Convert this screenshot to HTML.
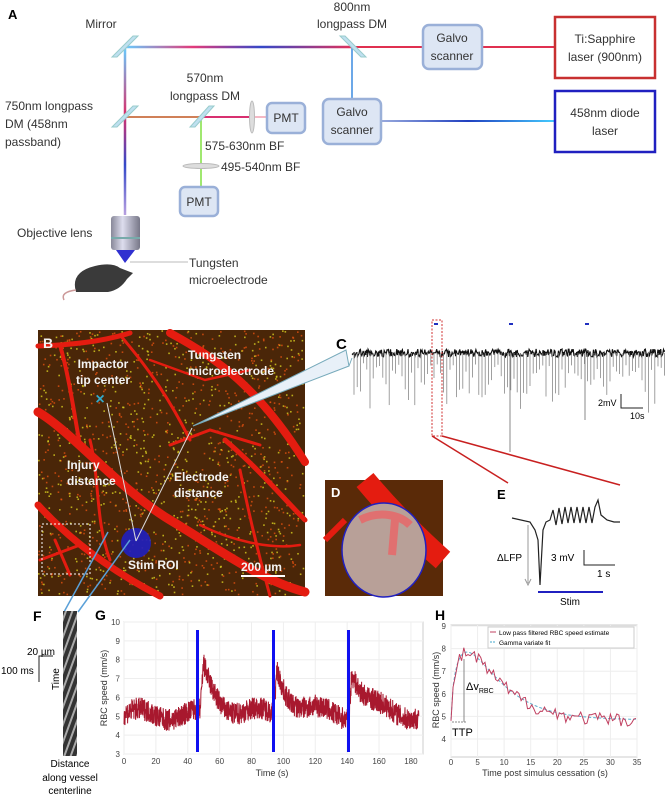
<!DOCTYPE html>
<html><head><meta charset="utf-8"><style>
body{margin:0;background:#fff}
svg{display:block;font-family:"Liberation Sans",sans-serif}
.t{font-size:12px;fill:#333}
.b{font-weight:bold}
</style></head><body>
<svg id="s" width="665" height="795" viewBox="0 0 665 795" xmlns="http://www.w3.org/2000/svg">
<defs>
<linearGradient id="rb" gradientUnits="userSpaceOnUse" x1="125" y1="0" x2="352" y2="0"><stop offset="0" stop-color="#6cf"/><stop offset=".3" stop-color="#e23a7a"/><stop offset=".6" stop-color="#3448c8"/><stop offset="1" stop-color="#e2305a"/></linearGradient>
<linearGradient id="vb" gradientUnits="userSpaceOnUse" x1="0" y1="47" x2="0" y2="215"><stop offset="0" stop-color="#6cf"/><stop offset=".4" stop-color="#d8306c"/><stop offset=".7" stop-color="#3448c8"/><stop offset="1" stop-color="#b8a0e0"/></linearGradient>
<linearGradient id="bl" gradientUnits="userSpaceOnUse" x1="381" y1="0" x2="555" y2="0"><stop offset="0" stop-color="#9ad"/><stop offset=".5" stop-color="#2040c0"/><stop offset="1" stop-color="#4cf"/></linearGradient>
<linearGradient id="obj" x1="0" x2="1"><stop offset="0" stop-color="#889"/><stop offset=".4" stop-color="#dde"/><stop offset="1" stop-color="#778"/></linearGradient>
<pattern id="ky" width="6" height="10" patternUnits="userSpaceOnUse" patternTransform="rotate(20)"><rect width="6" height="10" fill="#333"/><rect width="2" height="10" fill="#aaa"/></pattern>
</defs>
<!-- Panel A -->
<text x="8" y="19" class="b" font-size="13">A</text>
<line x1="125" y1="47" x2="352" y2="47" stroke="url(#rb)" stroke-width="2.5"/>
<line x1="352" y1="47" x2="555" y2="47" stroke="#e03050" stroke-width="2"/>
<line x1="125" y1="47" x2="125" y2="215" stroke="url(#vb)" stroke-width="2.5"/>
<line x1="125" y1="117" x2="252" y2="117" stroke="#d83070" stroke-width="2"/>
<line x1="125" y1="117" x2="200" y2="117" stroke="#c8d040" stroke-width="1"/>
<line x1="252" y1="117" x2="267" y2="117" stroke="#f0a0b0" stroke-width="1.5"/>
<line x1="201" y1="117" x2="201" y2="187" stroke="#80e040" stroke-width="1.5"/>
<line x1="352" y1="47" x2="352" y2="99" stroke="#3a8ae0" stroke-width="1.5"/>
<line x1="381" y1="121" x2="555" y2="121" stroke="url(#bl)" stroke-width="2"/>
<g fill="#bfe0f0" stroke="#9cc" stroke-width="1">
<polygon points="112,57 117,57 138,36 133,36"/><polygon points="112,127 117,127 138,106 133,106"/>
<polygon points="190,127 195,127 214,106 209,106"/><polygon points="340,36 345,36 366,57 361,57"/>
</g>
<ellipse cx="252" cy="117" rx="2.5" ry="16" fill="#ddd" stroke="#bbb"/>
<ellipse cx="201" cy="166" rx="18" ry="2.5" fill="#ddd" stroke="#bbb"/>
<g fill="#dde6f4" stroke="#9ab0d8" stroke-width="2.5">
<rect x="423" y="25" width="59" height="44" rx="6"/><rect x="323" y="99" width="58" height="45" rx="6"/>
<rect x="267" y="103" width="38" height="30" rx="5"/><rect x="180" y="187" width="38" height="29" rx="5"/>
</g>
<rect x="555" y="17" width="100" height="61" fill="#fff" stroke="#c83030" stroke-width="2.5"/>
<rect x="555" y="91" width="100" height="61" fill="#fff" stroke="#2020c0" stroke-width="2.5"/>
<g class="t" text-anchor="middle">
<text x="452" y="42">Galvo</text><text x="452" y="60">scanner</text>
<text x="352" y="116">Galvo</text><text x="352" y="134">scanner</text>
<text x="286" y="122">PMT</text><text x="199" y="206">PMT</text>
<text x="605" y="43">Ti:Sapphire</text><text x="605" y="61">laser (900nm)</text>
<text x="605" y="117">458nm diode</text><text x="605" y="135">laser</text>
<text x="101" y="28">Mirror</text>
<text x="352" y="11">800nm</text><text x="352" y="28">longpass DM</text>
<text x="205" y="82">570nm</text><text x="205" y="100">longpass DM</text>
</g>
<g class="t">
<text x="5" y="110">750nm longpass</text><text x="5" y="128">DM (458nm</text><text x="5" y="146">passband)</text>
<text x="205" y="150">575-630nm BF</text><text x="221" y="171">495-540nm BF</text>
<text x="17" y="237">Objective lens</text>
<text x="189" y="267">Tungsten</text><text x="189" y="284">microelectrode</text>
</g>
<rect x="111" y="216" width="29" height="34" rx="3" fill="url(#obj)"/>
<line x1="111" y1="238" x2="140" y2="238" stroke="#7aa" stroke-width="2"/>
<polygon points="116,250 135,250 125,263" fill="#3030d0"/>
<line x1="130" y1="262" x2="188" y2="262" stroke="#bbb"/>
<path d="M76,292 Q70,272 95,266 Q112,262 120,268 L133,273 L127,279 Q120,290 108,292 Z" fill="#3a3a3a"/>
<path d="M76,290 Q60,292 64,300" fill="none" stroke="#c99" stroke-width="1.5"/>
<!-- Panel B -->
<rect x="38" y="330" width="267" height="266" fill="#4a2608"/>
<g id="spk"></g>
<g fill="none" stroke="#e41c10" stroke-linecap="round">
<path d="M38,412 C70,430 120,490 170,520 S260,580 305,592" stroke-width="9"/>
<path d="M38,505 C70,540 110,570 160,596" stroke-width="7"/>
<path d="M170,333 C220,360 260,390 305,462" stroke-width="8"/>
<path d="M38,346 C70,345 100,342 130,333" stroke-width="5"/>
<path d="M225,440 C260,470 285,500 305,520" stroke-width="5"/>
<path d="M60,345 C70,380 75,420 80,445" stroke-width="4"/>
<path d="M120,335 C150,370 170,400 190,440" stroke-width="3"/>
<path d="M240,470 C250,520 260,560 270,596" stroke-width="3"/>
<path d="M90,440 C100,480 95,520 110,560" stroke-width="3"/>
<path d="M170,445 L210,430 L260,445" stroke-width="3"/>
<path d="M40,560 L80,545 M55,540 L70,575" stroke-width="3"/>
<path d="M200,525 C230,540 270,550 300,545" stroke-width="2.5"/>
<path d="M150,360 L205,380 L250,370" stroke-width="2.5"/>
</g>
<rect x="42" y="524" width="48" height="50" fill="none" stroke="#fff" stroke-dasharray="2,2"/>
<circle cx="136" cy="543" r="15" fill="#2020c0" opacity=".9"/>
<line x1="136" y1="541" x2="107" y2="403" stroke="#ddd"/><line x1="136" y1="541" x2="192" y2="428" stroke="#ddd"/>
<polygon points="193,426 346,350 349,366" fill="#e8f0f8" stroke="#7ab" stroke-width="1"/>
<line x1="349" y1="366" x2="352" y2="358" stroke="#7ab"/>
<text x="100" y="404" fill="#3ac" font-size="16" font-weight="bold" text-anchor="middle">×</text>
<line x1="108" y1="532" x2="64" y2="612" stroke="#5aa0d8" stroke-width="1.5"/>
<line x1="130" y1="540" x2="78" y2="612" stroke="#5aa0d8" stroke-width="1.5"/>
<g fill="#f4f4f4" font-size="12" font-weight="bold">
<text x="43" y="348" font-size="14">B</text>
<text x="103" y="368" text-anchor="middle">Impactor</text><text x="103" y="384" text-anchor="middle">tip center</text>
<text x="188" y="359">Tungsten</text><text x="188" y="375">microelectrode</text>
<text x="67" y="469">Injury</text><text x="67" y="485">distance</text>
<text x="174" y="481">Electrode</text><text x="174" y="497">distance</text>
<text x="128" y="569">Stim ROI</text><text x="241" y="571">200 µm</text>
</g>
<line x1="241" y1="576" x2="285" y2="576" stroke="#fff" stroke-width="2"/>
<!-- Panel C -->
<text x="336" y="349" font-size="15" font-weight="bold">C</text>
<g id="ctr"></g>
<g fill="#2030c0"><rect x="434" y="323" width="4" height="2"/><rect x="509" y="323" width="4" height="2"/><rect x="585" y="323" width="4" height="2"/></g>
<rect x="432" y="320" width="10" height="116" fill="none" stroke="#d03030" stroke-dasharray="2,1.5"/>
<line x1="432" y1="436" x2="508" y2="483" stroke="#c82020" stroke-width="1.5"/>
<line x1="442" y1="436" x2="620" y2="485" stroke="#c82020" stroke-width="1.5"/>
<path d="M621,394 V408 H643" fill="none" stroke="#222"/>
<text x="598" y="406" font-size="9">2mV</text><text x="630" y="419" font-size="9">10s</text>
<!-- Panel D -->
<rect x="325" y="480" width="118" height="116" fill="#5a2a08"/>
<path d="M365,480 C390,510 420,540 443,560" stroke="#e41c10" stroke-width="22" fill="none"/>
<path d="M325,540 L345,520" stroke="#e41c10" stroke-width="6" fill="none"/>
<ellipse cx="384" cy="550" rx="42" ry="47" fill="#b8a098" stroke="#2020c0" stroke-width="1.5"/>
<path d="M360,520 C380,510 400,515 410,525 M395,520 L392,555" stroke="#e07070" stroke-width="8" fill="none"/>
<text x="331" y="497" fill="#fff" font-size="13" font-weight="bold">D</text>
<!-- Panel E -->
<text x="497" y="499" font-size="13" font-weight="bold">E</text>
<path d="M512,518 L530,522 L535,530 L538,540 L540,585 L543,530 L546,522 L550,520 L553,510 L556,525 L559,508 L562,524 L565,507 L568,523 L571,507 L574,523 L577,507 L580,523 L583,507 L586,523 L589,507 L592,523 L595,507 L598,500 L601,515 L607,520 L614,522 L620,522" fill="none" stroke="#222" stroke-width="1.2"/>
<line x1="528" y1="525" x2="528" y2="583" stroke="#999"/><path d="M525,579 L528,585 L531,579" fill="none" stroke="#999"/>
<text x="497" y="561" font-size="10">ΔLFP</text>
<text x="551" y="561" font-size="10">3 mV</text>
<path d="M584,550 V565 H615" fill="none" stroke="#222"/>
<text x="597" y="577" font-size="10">1 s</text>
<line x1="538" y1="592" x2="603" y2="592" stroke="#2020c0" stroke-width="2"/>
<text x="560" y="605" font-size="10">Stim</text>
<!-- Panel F -->
<text x="33" y="621" font-size="14" font-weight="bold">F</text>
<rect x="63" y="611" width="14" height="145" fill="url(#ky)"/>
<path d="M53,656 H39 V682" fill="none" stroke="#222"/>
<text x="27" y="655" font-size="10">20 µm</text><text x="1" y="674" font-size="10">100 ms</text>
<text x="59" y="690" font-size="10" transform="rotate(-90 59 690)">Time</text>
<g font-size="10" text-anchor="middle"><text x="70" y="767">Distance</text><text x="70" y="781">along vessel</text><text x="70" y="794">centerline</text></g>
<!-- Panel G -->
<text x="95" y="620" font-size="14" font-weight="bold">G</text>
<rect x="124" y="622" width="299" height="132" fill="none" stroke="#ccc"/>
<g id="ggrid" stroke="#eee"></g>
<g id="gtr"></g>
<g fill="#1010f0"><rect x="196" y="630" width="3" height="122"/><rect x="272" y="630" width="3" height="122"/><rect x="347" y="630" width="3" height="122"/></g>
<g font-size="8" fill="#444" text-anchor="end" id="gyl"></g>
<g font-size="8" fill="#444" text-anchor="middle" id="gxl"></g>
<text x="272" y="776" font-size="9" text-anchor="middle" fill="#333">Time (s)</text>
<text x="107" y="688" font-size="9" fill="#333" text-anchor="middle" transform="rotate(-90 107 688)">RBC speed (mm/s)</text>
<!-- Panel H -->
<text x="435" y="620" font-size="14" font-weight="bold">H</text>
<rect x="451" y="625" width="186" height="132" fill="none" stroke="#ccc"/>
<g id="htr"></g>
<rect x="488" y="627" width="146" height="21" fill="#fff" stroke="#ccc"/>
<line x1="490" y1="632" x2="496" y2="632" stroke="#c04060"/><line x1="490" y1="642" x2="496" y2="642" stroke="#4ac" stroke-dasharray="2,1"/>
<text x="499" y="635" font-size="6.5">Low pass filtered RBC speed estimate</text>
<text x="499" y="645" font-size="6.5">Gamma variate fit</text>
<line x1="464" y1="659" x2="464" y2="722" stroke="#888"/>
<path d="M452,722 H466" stroke="#888" stroke-dasharray="2,1"/>
<text x="466" y="690" font-size="11">Δv<tspan font-size="7" dy="3">RBC</tspan></text>
<text x="452" y="736" font-size="11">TTP</text>
<g font-size="8" fill="#444" id="hl"></g>
<text x="545" y="776" font-size="9" text-anchor="middle" fill="#333">Time post simulus cessation (s)</text>
<text x="439" y="690" font-size="9" fill="#333" text-anchor="middle" transform="rotate(-90 439 690)">RBC speed (mm/s)</text>
</svg>
<script>
var NS="http://www.w3.org/2000/svg";function E(p,t,a){var e=document.createElementNS(NS,t);for(var k in a)e.setAttribute(k,a[k]);document.getElementById(p).appendChild(e);return e;}
var seed=7;function r(){seed=(seed*16807)%2147483647;return seed/2147483647;}
for(var i=0;i<1400;i++){E("spk","rect",{x:38+r()*265,y:330+r()*264,width:1.6,height:1.6,fill:r()<.5?"#d8d020":"#e05010",opacity:.8});}
var s="";for(var x=352;x<665;x+=0.7){var y=353+(r()-.5)*8;s+=x.toFixed(1)+","+y.toFixed(1)+" ";}
E("ctr","polyline",{points:s,fill:"none",stroke:"#111","stroke-width":1.2});
for(var x=354;x<665;x+=3.2){var d=r();var L=d<.5?10+r()*15:(d<.85?25+r()*20:40+r()*20);E("ctr","line",{x1:x,y1:353,x2:x,y2:353+L,stroke:"#888","stroke-width":.8});}
E("ctr","line",{x1:510,y1:353,x2:510,y2:452,stroke:"#888"});E("ctr","line",{x1:585,y1:353,x2:585,y2:420,stroke:"#888"});
var X=function(t){return 124+t*1.594},Y=function(v){return 754-(v-3)*18.86};
for(var v=3;v<=10;v++){E("ggrid","line",{x1:124,x2:423,y1:Y(v),y2:Y(v)});var t=E("gyl","text",{x:120,y:Y(v)+3});t.textContent=v;}
for(var t=0;t<=180;t+=20){E("ggrid","line",{x1:X(t),x2:X(t),y1:622,y2:754});var q=E("gxl","text",{x:X(t),y:764});q.textContent=t;}
s="";for(var t=0;t<185;t+=0.12){var v=5.1+0.3*Math.sin(t/6);[48,94,141].forEach(function(a){if(t>a)v+=3.0*Math.exp(-(t-a)/9)*Math.min(1,(t-a)/2);});v+=(r()-.5)*1.2;s+=X(t).toFixed(1)+","+Y(v).toFixed(1)+" ";}
E("gtr","polyline",{points:s,fill:"none",stroke:"#a8182e","stroke-width":1});
var HX=function(t){return 451+t*5.314},HY=function(v){return 739-(v-4)*22.6};
for(var v=4;v<=9;v++){E("htr","line",{x1:451,x2:637,y1:HY(v),y2:HY(v),stroke:"#eee"});var q=E("hl","text",{x:446,y:HY(v)+3,"text-anchor":"end"});q.textContent=v;}
for(var t=0;t<=35;t+=5){E("htr","line",{x1:HX(t),x2:HX(t),y1:625,y2:757,stroke:"#eee"});var q=E("hl","text",{x:HX(t),y:765,"text-anchor":"middle"});q.textContent=t;}
var f=function(t){return 4.8+3*Math.pow(t/3,0.6)*Math.exp(0.6*(1-t/3))};
s="";var s2="";for(var t=0;t<=35;t+=0.4){var v=f(t)+(t>0.5?(r()-.5)*0.6:0);s+=HX(t).toFixed(1)+","+HY(v).toFixed(1)+" ";s2+=HX(t).toFixed(1)+","+HY(f(t)+0.05).toFixed(1)+" ";}
E("htr","polyline",{points:s2,fill:"none",stroke:"#5ab0d0","stroke-dasharray":"3,2","stroke-width":1});
E("htr","polyline",{points:s,fill:"none",stroke:"#c04060","stroke-width":1});
</script>
</body></html>
